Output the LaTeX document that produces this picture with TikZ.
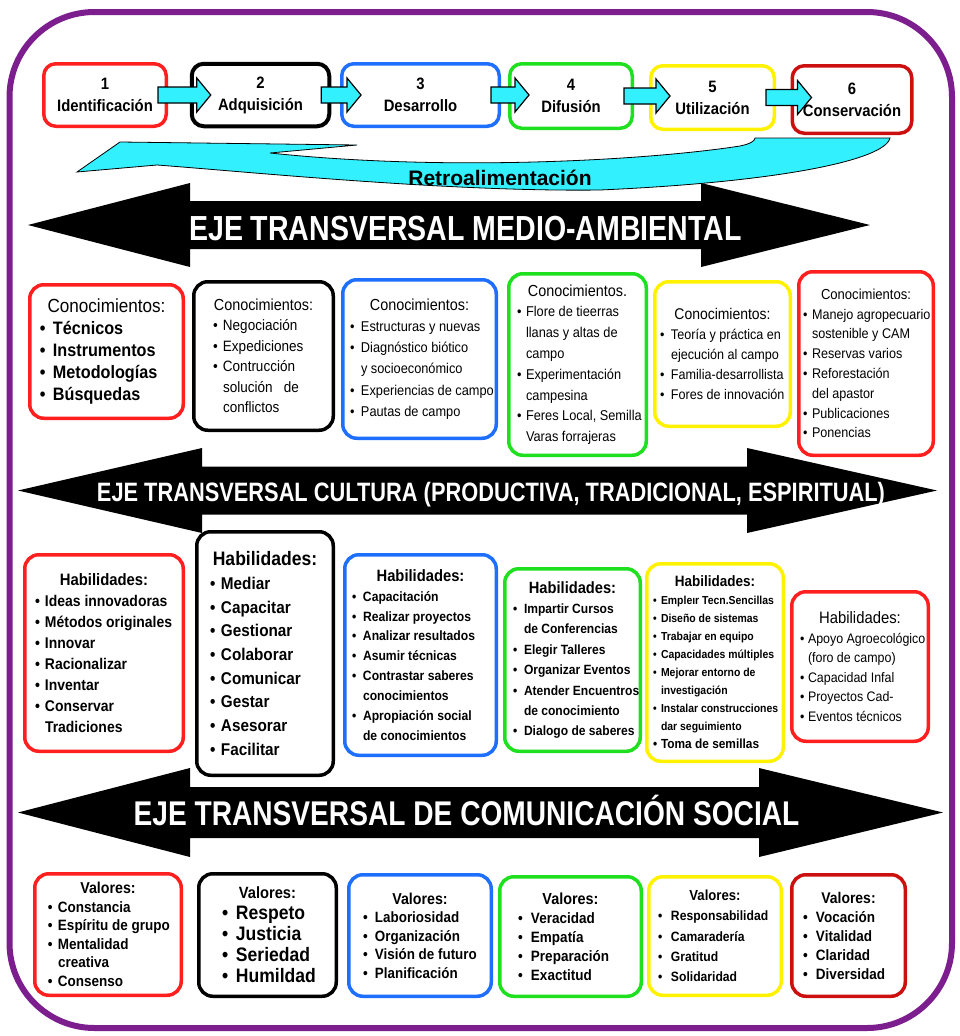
\documentclass[tikz,border=0pt]{standalone}
\usepackage{fontspec}
\setmainfont{Liberation Sans}
\newfontfamily\fuentecaja[FakeStretch=0.9]{Liberation Sans}
\newfontfamily\fuenteeje[FakeStretch=0.82]{Liberation Sans}
\usepackage{tikz}
\usetikzlibrary{calc}

\definecolor{rojo}{HTML}{FF1F1F}
\definecolor{rojoosc}{HTML}{CC1010}
\definecolor{azul}{HTML}{1F6FFF}
\definecolor{verde}{HTML}{1EE01E}
\definecolor{amarillo}{HTML}{FFF200}
\definecolor{cian}{HTML}{33F0FF}
\definecolor{morado}{HTML}{7D1E8E}

\tikzstyle{caja} = [draw, line width=3.5pt, rounded corners=14pt, fill=white, inner sep=0pt]
\tikzstyle{paso} = [caja, rounded corners=12pt, align=center, font=\fuentecaja\bfseries\fontsize{16.5}{22}\selectfont]
\tikzstyle{flecha} = [draw=black, fill=cian, line width=1.2pt, line join=miter]
\tikzstyle{eje} = [text=white, text depth=0pt, inner sep=0pt]

\newlength{\sangria}
\newcommand{\tit}[1]{\centerline{#1}}
\newcommand{\itm}[1]{\par\noindent\makebox[\sangria][l]{\textbullet}\mbox{#1}\par}
\newcommand{\sig}[1]{\par\noindent\hspace*{\sangria}\mbox{#1}\par}
\newcommand{\flechabloque}[2]{%
  \draw[flecha] ($(#1.east)+(-10,-8)$) -- ($(#1.east -| #2.west)+(7,-8)$)
    -- ($(#1.east -| #2.west)+(7,-17)$) -- ($(#1.east -| #2.west)+(21,0)$)
    -- ($(#1.east -| #2.west)+(7,17)$) -- ($(#1.east -| #2.west)+(7,8)$)
    -- ($(#1.east)+(-10,8)$) -- cycle;}

\begin{document}
\begin{tikzpicture}[x=1pt, y=-1pt]
\useasboundingbox (0,0) rectangle (960,1036);
\fill[white] (0,0) rectangle (960,1036);
\draw[morado, line width=6pt, rounded corners=85pt] (9.5,12) rectangle (952,1028);

% ejes transversales
\fill (28,225) -- (190,183) -- (190,201) -- (701,201) -- (701,183) -- (870,225) -- (701,267) -- (701,249) -- (190,249) -- (190,267) -- cycle;
\node[eje, text height=25pt, font=\fuenteeje\bfseries\fontsize{34.8}{40}\selectfont] (eje1) at (465.5,228) {EJE TRANSVERSAL MEDIO-AMBIENTAL};

\fill (18,490.5) -- (202,448) -- (202,466.5) -- (747,466.5) -- (747,448) -- (937,490.5) -- (747,533) -- (747,514.5) -- (202,514.5) -- (202,533) -- cycle;
\node[eje, text height=19pt, font=\fuenteeje\bfseries\fontsize{26.6}{30}\selectfont] (eje2) at (491,492) {EJE TRANSVERSAL CULTURA (PRODUCTIVA, TRADICIONAL, ESPIRITUAL)};

\fill (18,812.5) -- (190,768) -- (190,787) -- (759,787) -- (759,768) -- (943,812.5) -- (759,857) -- (759,838) -- (190,838) -- (190,857) -- cycle;
\node[eje, text height=24.7pt, font=\fuenteeje\bfseries\fontsize{34.3}{40}\selectfont] (eje3) at (466.5,813) {EJE TRANSVERSAL DE COMUNICACIÓN SOCIAL};

% retroalimentacion
\draw[fill=cian, draw=black, line width=0.8pt] (77,172) -- (120,142) -- (357,145) -- (270,153)
  .. controls (450,172) and (650,160) .. (740,146) .. controls (750,144) and (755,141) .. (755,138)
  -- (890,138) .. controls (885,160) and (780,182) .. (600,190)
  .. controls (450,192) and (250,172) .. (157,165) -- cycle;
\node[font=\bfseries\fontsize{21}{24}\selectfont] (retro) at (500,178) {Retroalimentación};

% etapas
\node[paso, draw=rojo, minimum width=122.5pt, minimum height=62.5pt] (p1) at (105,95) {1\\Identificación};
\node[paso, draw=black, line width=4pt, minimum width=137.5pt, minimum height=62.5pt] (p2) at (260.5,95) {2\\Adquisición};
\node[paso, draw=azul, minimum width=157.5pt, minimum height=62.5pt] (p3) at (420.5,95) {3\\Desarrollo};
\node[paso, draw=verde, minimum width=122.5pt, minimum height=64.5pt] (p4) at (571,96) {4\\Difusión};
\node[paso, draw=amarillo, minimum width=123.5pt, minimum height=63.5pt] (p5) at (712.5,97.5) {5\\Utilización};
\node[paso, draw=rojoosc, minimum width=119.5pt, minimum height=67.5pt] (p6) at (852,99.5) {6\\Conservación};

\flechabloque{p1}{p2}
\flechabloque{p2}{p3}
\flechabloque{p3}{p4}
\flechabloque{p4}{p5}
\flechabloque{p5}{p6}

% conocimientos
\node[caja, draw=rojo, minimum width=153.5pt, minimum height=133.5pt] (c1) at (106.5,351.5) {\parbox{133pt}{\fuentecaja\fontsize{18}{22}\selectfont\setlength{\sangria}{13pt}%
{\fontsize{19}{22}\selectfont\tit{Conocimientos:}}%
\bfseries\itm{Técnicos}\itm{Instrumentos}\itm{Metodologías}\itm{Búsquedas}}};

\node[caja, draw=black, minimum width=139.5pt, minimum height=148.5pt] (c2) at (263.5,356) {\parbox{101pt}{\fuentecaja\fontsize{15}{20.5}\selectfont\setlength{\sangria}{10pt}%
{\fontsize{16}{20.5}\selectfont\tit{Conocimientos:}}%
\itm{Negociación}\itm{Expediciones}\itm{Contrucción}\sig{solución\ \ \ de}\sig{conflictos}}};

\node[caja, draw=azul, minimum width=153.5pt, minimum height=158.5pt] (c3) at (419.5,359) {\parbox{139pt}{\fuentecaja\fontsize{14.2}{21.3}\selectfont\setlength{\sangria}{11pt}%
{\fontsize{16}{21.3}\selectfont\tit{Conocimientos:}}%
\itm{Estructuras y nuevas}\itm{Diagnóstico biótico}\sig{y socioeconómico}\itm{Experiencias de campo}\itm{Pautas de campo}}};

\node[caja, draw=verde, minimum width=137.5pt, minimum height=181.5pt] (c4) at (577.5,364.5) {\parbox{121pt}{\fuentecaja\fontsize{14.2}{20.8}\selectfont\setlength{\sangria}{9pt}%
{\fontsize{16}{20.8}\selectfont\tit{Conocimientos.}}%
\itm{Flore de tieerras}\sig{llanas y altas de}\sig{campo}\itm{Experimentación}\sig{campesina}\itm{Feres Local, Semilla}\sig{Varas forrajeras}}};

\node[caja, draw=amarillo, minimum width=135.5pt, minimum height=144.5pt] (c5) at (722.5,354) {\parbox{125pt}{\fuentecaja\fontsize{14}{20}\selectfont\setlength{\sangria}{11pt}%
{\fontsize{15.5}{20}\selectfont\tit{Conocimientos:}}%
\itm{Teoría y práctica en}\sig{ejecución al campo}\itm{Familia-desarrollista}\itm{Fores de innovación}}};

\node[caja, draw=rojo, minimum width=134.5pt, minimum height=183.5pt] (c6) at (866,363.5) {\parbox{126pt}{\fuentecaja\fontsize{14}{19.8}\selectfont\setlength{\sangria}{9pt}%
{\fontsize{14.5}{19.8}\selectfont\tit{Conocimientos:}}%
\itm{Manejo agropecuario}\sig{sostenible y CAM}\itm{Reservas varios}\itm{Reforestación}\sig{del apastor}\itm{Publicaciones}\itm{Ponencias}}};

% habilidades
\node[caja, draw=rojo, minimum width=158.5pt, minimum height=196.5pt] (h1) at (104,653) {\parbox{138pt}{\fuentecaja\bfseries\fontsize{15.5}{21}\selectfont\setlength{\sangria}{10pt}%
{\fontsize{16.5}{21}\selectfont\tit{Habilidades:}}%
\itm{Ideas innovadoras}\itm{Métodos originales}\itm{Innovar}\itm{Racionalizar}\itm{Inventar}\itm{Conservar}\sig{Tradiciones}}};

\node[caja, draw=black, minimum width=136.5pt, minimum height=243.5pt] (h2) at (265,653.5) {\parbox{110pt}{\fuentecaja\bfseries\fontsize{17}{23.7}\selectfont\setlength{\sangria}{11pt}%
{\fontsize{19.5}{23.7}\selectfont\tit{Habilidades:}}%
\itm{Mediar}\itm{Capacitar}\itm{Gestionar}\itm{Colaborar}\itm{Comunicar}\itm{Gestar}\itm{Asesorar}\itm{Facilitar}}};

\node[caja, draw=azul, minimum width=151.5pt, minimum height=200.5pt] (h3) at (420.5,655) {\parbox{137pt}{\fuentecaja\bfseries\fontsize{13.5}{19.9}\selectfont\setlength{\sangria}{11pt}%
{\fontsize{16.4}{19.9}\selectfont\tit{Habilidades:}}%
\itm{Capacitación}\itm{Realizar proyectos}\itm{Analizar resultados}\itm{Asumir técnicas}\itm{Contrastar saberes}\sig{conocimientos}\itm{Apropiación social}\sig{de conocimientos}}};

\node[caja, draw=verde, minimum width=135.5pt, minimum height=182.5pt] (h4) at (572.5,660) {\parbox{119pt}{\fuentecaja\bfseries\fontsize{13.4}{20.4}\selectfont\setlength{\sangria}{11pt}%
{\fontsize{16.3}{20.4}\selectfont\tit{Habilidades:}}%
\itm{Impartir Cursos}\sig{de Conferencias}\itm{Elegir Talleres}\itm{Organizar Eventos}\itm{Atender Encuentros}\sig{de conocimiento}\itm{Dialogo de saberes}}};

\node[caja, draw=amarillo, minimum width=136.5pt, minimum height=197.5pt] (h5) at (715,662.5) {\parbox{124pt}{\fuentecaja\bfseries\fontsize{11.6}{18}\selectfont\setlength{\sangria}{8pt}%
{\fontsize{15}{18}\selectfont\tit{Habilidades:}}%
\itm{Empleır Tecn.Sencillas}\itm{Diseño de sistemas}\itm{Trabajar en equipo}\itm{Capacidades múltiples}\itm{Mejorar entorno de}\sig{investigación}\itm{Instalar construcciones}\sig{dar seguimiento}%
{\fontsize{13.2}{18}\selectfont\itm{Toma de semillas}}}};

\node[caja, draw=rojo, minimum width=136.5pt, minimum height=149.5pt] (h6) at (860,666.5) {\parbox{120pt}{\fuentecaja\fontsize{13.8}{19.5}\selectfont\setlength{\sangria}{8pt}%
{\fontsize{16.5}{19.5}\selectfont\tit{Habilidades:}}%
\itm{Apoyo Agroecológico}\sig{(foro de campo)}\itm{Capacidad Infal}\itm{Proyectos Cad-}\itm{Eventos técnicos}}};

% valores
\node[caja, draw=rojo, minimum width=146.5pt, minimum height=121.5pt] (v1) at (108,934.5) {\parbox{120pt}{\fuentecaja\bfseries\fontsize{15}{18.5}\selectfont\setlength{\sangria}{10pt}%
{\fontsize{15.8}{18.5}\selectfont\tit{Valores:}}%
\itm{Constancia}\itm{Espíritu de grupo}\itm{Mentalidad}\sig{creativa}\itm{Consenso}}};

\node[caja, draw=black, minimum width=137.5pt, minimum height=122.5pt] (v2) at (267.5,935) {\parbox{91pt}{\fuentecaja\bfseries\fontsize{19.5}{21}\selectfont\setlength{\sangria}{14pt}%
{\fontsize{16.3}{21}\selectfont\tit{Valores:}}%
\itm{Respeto}\itm{Justicia}\itm{Seriedad}\itm{Humildad}}};

\node[caja, draw=azul, minimum width=142.5pt, minimum height=121.5pt] (v3) at (420,935.5) {\parbox{114pt}{\fuentecaja\bfseries\fontsize{14.9}{18.5}\selectfont\setlength{\sangria}{12pt}%
{\fontsize{15.8}{18.5}\selectfont\tit{Valores:}}%
\itm{Laboriosidad}\itm{Organización}\itm{Visión de futuro}\itm{Planificación}}};

\node[caja, draw=verde, minimum width=141.5pt, minimum height=119.5pt] (v4) at (570.5,936.5) {\parbox{105pt}{\fuentecaja\bfseries\fontsize{15}{19}\selectfont\setlength{\sangria}{13pt}%
{\fontsize{16}{19}\selectfont\tit{Valores:}}%
\itm{Veracidad}\itm{Empatía}\itm{Preparación}\itm{Exactitud}}};

\node[caja, draw=amarillo, minimum width=132.5pt, minimum height=118.5pt] (v5) at (715,936) {\parbox{114pt}{\fuentecaja\bfseries\fontsize{13.5}{20.3}\selectfont\setlength{\sangria}{13pt}%
{\fontsize{14.6}{20.3}\selectfont\tit{Valores:}}%
\itm{Responsabilidad}\itm{Camaradería}\itm{Gratitud}\itm{Solidaridad}}};

\node[caja, draw=rojoosc, minimum width=113.5pt, minimum height=121.5pt] (v6) at (848.5,935.5) {\parbox{91pt}{\fuentecaja\bfseries\fontsize{15}{19}\selectfont\setlength{\sangria}{13pt}%
{\fontsize{15.5}{19}\selectfont\tit{Valores:}}%
\itm{Vocación}\itm{Vitalidad}\itm{Claridad}\itm{Diversidad}}};
\end{tikzpicture}
\end{document}
